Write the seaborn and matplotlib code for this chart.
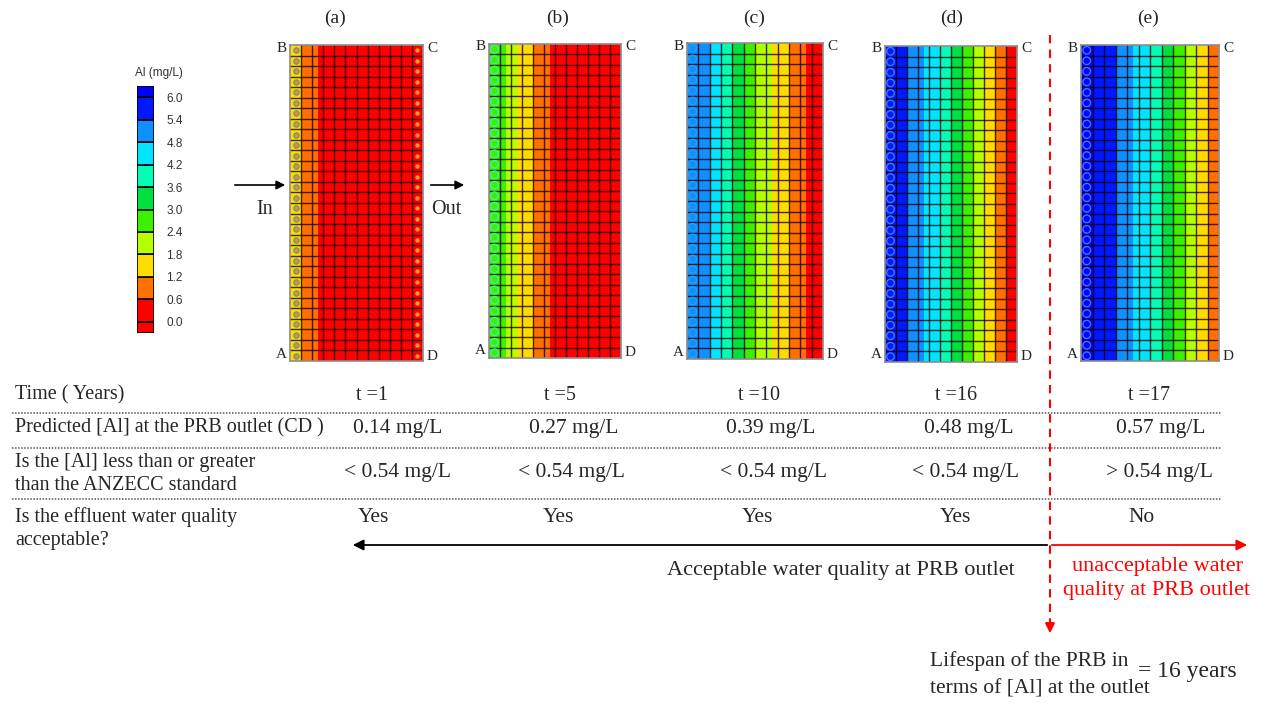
import numpy as np
import matplotlib
matplotlib.use("Agg")
import matplotlib.pyplot as plt
from matplotlib.colors import ListedColormap, BoundaryNorm
import seaborn as sns

# ---- data -------------------------------------------------------------
panel_tags = ["(a)", "(b)", "(c)", "(d)", "(e)"]
time_labels = ["t =1", "t =5", "t =10", "t =16", "t =17"]
predicted_al = ["0.14 mg/L", "0.27 mg/L", "0.39 mg/L", "0.48 mg/L", "0.57 mg/L"]
vs_standard = ["< 0.54 mg/L", "< 0.54 mg/L", "< 0.54 mg/L", "< 0.54 mg/L", "> 0.54 mg/L"]
acceptable = ["Yes", "Yes", "Yes", "Yes", "No"]

# Al concentration (mg/L) across the barrier, inlet (AB) -> outlet (CD),
# two samples per model column, 12 columns
profile_t1 = [1.3, 1.3, 0.9, 0.7, 0.62, 0.5, 0.45, 0.42, 0.4, 0.38, 0.36, 0.34,
              0.32, 0.3, 0.28, 0.26, 0.24, 0.22, 0.2, 0.19, 0.18, 0.16, 0.15, 0.14]
profile_t5 = [2.5, 2.45, 2.45, 2.2, 2.0, 1.75, 1.5, 1.3, 1.1, 0.8, 0.62, 0.55,
              0.5, 0.48, 0.46, 0.44, 0.42, 0.4, 0.38, 0.36, 0.33, 0.31, 0.29, 0.27]
profile_t10 = [5.0, 4.9, 4.85, 4.8, 4.6, 4.4, 4.0, 3.8, 3.5, 3.2, 2.9, 2.6,
               2.3, 2.0, 1.9, 1.7, 1.5, 1.25, 1.1, 0.8, 0.65, 0.5, 0.45, 0.39]
profile_t16 = [5.8, 5.6, 5.5, 5.42, 5.2, 5.0, 4.9, 4.75, 4.6, 4.3, 4.0, 3.7,
               3.5, 3.1, 2.9, 2.6, 2.35, 2.0, 1.7, 1.3, 1.1, 0.7, 0.55, 0.48]
profile_t17 = [6.1, 6.0, 5.9, 5.8, 5.7, 5.5, 5.3, 5.1, 5.0, 4.75, 4.6, 4.3,
               4.1, 3.7, 3.5, 3.1, 2.9, 2.5, 2.3, 1.9, 1.7, 1.3, 1.0, 0.8]
profiles = [profile_t1, profile_t5, profile_t10, profile_t16, profile_t17]

n_rows = 30
n_cols = 12

legend_levels = [0.0, 0.6, 1.2, 1.8, 2.4, 3.0, 3.6, 4.2, 4.8, 5.4, 6.0]
legend_labels = ["0.0", "0.6", "1.2", "1.8", "2.4", "3.0", "3.6", "4.2", "4.8", "5.4", "6.0"]
level_colors = ["#ff0000", "#ff0000", "#ff7000", "#ffdc00", "#b4ff00", "#3cf000",
                "#00e040", "#00ffb4", "#00e4ff", "#1090ff", "#0018ff", "#0000ff"]

# ---- style ------------------------------------------------------------
sns.set_theme(style="white")
plt.rcParams["font.family"] = ["Liberation Serif", "DejaVu Serif"]

W, H = 1263, 704
fig = plt.figure(figsize=(W / 100, H / 100), dpi=100)
ax0 = fig.add_axes([0, 0, 1, 1])
ax0.set_xlim(0, W)
ax0.set_ylim(H, 0)
ax0.axis("off")


def add_px_axes(x0, y0, x1, y1):
    return fig.add_axes([x0 / W, 1 - y1 / H, (x1 - x0) / W, (y1 - y0) / H])


cmap = ListedColormap(level_colors)
bounds = [-1.0] + legend_levels + [10.0]
norm = BoundaryNorm(bounds, cmap.N)

# ---- concentration panels ----------------------------------------------
panel_boxes = [(290, 45, 423, 361), (489, 44, 621, 358), (687, 43, 823, 359),
               (885, 46, 1017, 362), (1081, 45, 1219, 361)]
tag_x = [335, 558, 754, 952, 1148]
marker_style = [
    dict(s=14, facecolor="#f08a20", edgecolor="#6a9a8a", linewidth=1.0),
    dict(s=30, facecolor="none", edgecolor="#40f0a0", linewidth=1.0),
    dict(s=30, facecolor="none", edgecolor="#22a2ff", linewidth=0.8),
    dict(s=30, facecolor="none", edgecolor="#3a78ff", linewidth=1.0),
    dict(s=30, facecolor="none", edgecolor="#3a78ff", linewidth=1.0),
]

for k, (box, prof) in enumerate(zip(panel_boxes, profiles)):
    x0, y0, x1, y1 = box
    ax = add_px_axes(x0, y0, x1, y1)
    grid = np.tile(np.asarray(prof, dtype=float), (n_rows, 1))
    sns.heatmap(grid, cmap=cmap, norm=norm, cbar=False, ax=ax,
                xticklabels=False, yticklabels=False, linewidths=0)
    sub = len(prof) // n_cols
    for c in range(1, n_cols):
        ax.axvline(c * sub, color="#1a0000", lw=1.0, alpha=0.8)
    for r in range(1, n_rows):
        ax.axhline(r, color="#1a0000", lw=1.0, alpha=0.8)
    for s in ax.spines.values():
        s.set_visible(True)
        s.set_color("#8c8c8c")
        s.set_linewidth(1.2)
    rows = np.arange(n_rows) + 0.5
    ax.scatter(np.full(n_rows, sub / 2), rows, zorder=5, **marker_style[k])
    if k == 0:
        ax.scatter(np.full(n_rows, len(prof) - sub / 2), rows, s=10,
                   color="#ff9a30", zorder=5, linewidth=0)

    ax0.text(tag_x[k], 18, panel_tags[k], ha="center", va="center", fontsize=14)
    ax0.text(x0 - 3, y0 + 3, "B", ha="right", va="center", fontsize=11)
    ax0.text(x1 + 4, y0 + 3, "C", ha="left", va="center", fontsize=11)
    ax0.text(x0 - 3, y1 - 7, "A", ha="right", va="center", fontsize=11)
    ax0.text(x1 + 4, y1 - 5, "D", ha="left", va="center", fontsize=11)

# flow direction
ax0.annotate("", xy=(288, 185), xytext=(232, 185),
             arrowprops=dict(arrowstyle="-|>", color="black", lw=1.2, mutation_scale=13))
ax0.annotate("", xy=(467, 185), xytext=(428, 185),
             arrowprops=dict(arrowstyle="-|>", color="black", lw=1.2, mutation_scale=13))
ax0.text(265, 210, "In", ha="center", va="center", fontsize=14.5)
ax0.text(446, 210, "Out", ha="center", va="center", fontsize=14.5)

# ---- legend -------------------------------------------------------------
cax = add_px_axes(137, 86, 154, 333)
step = legend_levels[1] - legend_levels[0]
edges = [legend_levels[0] - step / 2] + legend_levels + [legend_levels[-1] + step / 2]
for i, col in enumerate(level_colors):
    cax.bar(0.5, edges[i + 1] - edges[i], bottom=edges[i], width=1.0, color=col,
            edgecolor="black", linewidth=1.2)
cax.set_xlim(0, 1)
cax.set_ylim(edges[0], edges[-1])
cax.set_xticks([])
cax.yaxis.tick_right()
cax.set_yticks(legend_levels)
cax.set_yticklabels(legend_labels, family="Liberation Sans", fontsize=8.5, color="#333333")
cax.tick_params(axis="y", length=0, pad=9)
for s in cax.spines.values():
    s.set_visible(False)
ax0.text(135, 73, "Al (mg/L)", ha="left", va="center", fontsize=8.5,
         family="Liberation Sans", color="#333333")

# ---- summary table ------------------------------------------------------
lab_fs = 14.5
val_fs = 15.5
ax0.text(15, 395, "Time ( Years)", ha="left", va="center", fontsize=lab_fs)
ax0.text(15, 428, "Predicted [Al] at the PRB outlet (CD )", ha="left", va="center", fontsize=lab_fs)
ax0.text(15, 462, "Is the [Al] less than or greater", ha="left", va="center", fontsize=lab_fs)
ax0.text(15, 486, "than the ANZECC standard", ha="left", va="center", fontsize=lab_fs)
ax0.text(15, 517, "Is the effluent water quality", ha="left", va="center", fontsize=lab_fs)
ax0.text(15, 541, "acceptable?", ha="left", va="center", fontsize=lab_fs)

for xc, s in zip([372, 560, 759, 956, 1149], time_labels):
    ax0.text(xc, 395, s, ha="center", va="center", fontsize=lab_fs)
for xc, s in zip([398, 574, 771, 969, 1161], predicted_al):
    ax0.text(xc, 428, s, ha="center", va="center", fontsize=val_fs)
for xc, s in zip([397, 571, 773, 966, 1160], vs_standard):
    ax0.text(xc, 472, s, ha="center", va="center", fontsize=val_fs)
for xc, s in zip([373, 558, 757, 955, 1142], acceptable):
    ax0.text(xc, 517, s, ha="center", va="center", fontsize=val_fs)

for yl in [413, 448, 499]:
    ax0.plot([12, 1222], [yl, yl], color="#555555", lw=1.1, ls=(0, (1, 1)))

# acceptable / unacceptable range
ax0.annotate("", xy=(350, 545), xytext=(1050, 545),
             arrowprops=dict(arrowstyle="-|>", color="black", lw=1.3, mutation_scale=16))
ax0.annotate("", xy=(1250, 545), xytext=(1049, 545),
             arrowprops=dict(arrowstyle="-|>", color="#ff0000", lw=1.3, mutation_scale=16))
ax0.text(841, 570, "Acceptable water quality at PRB outlet", ha="center", va="center", fontsize=16)
ax0.text(1157, 566, "unacceptable water", ha="center", va="center", fontsize=16, color="#ff0000")
ax0.text(1157, 591, "quality at PRB outlet", ha="center", va="center", fontsize=16, color="#ff0000")

# end of service life marker
ax0.plot([1050, 1050], [35, 624], color="#ff0000", lw=1.5, ls=(0, (4, 3)))
ax0.annotate("", xy=(1050, 636), xytext=(1050, 622),
             arrowprops=dict(arrowstyle="-|>", color="#ff0000", lw=1.5, mutation_scale=14))
ax0.text(930, 661, "Lifespan of the PRB in", ha="left", va="center", fontsize=15.5)
ax0.text(930, 689, "terms of [Al] at the outlet", ha="left", va="center", fontsize=15.5)
ax0.text(1138, 671, "= 16 years", ha="left", va="center", fontsize=17)

fig.savefig("out.png", dpi=100)
